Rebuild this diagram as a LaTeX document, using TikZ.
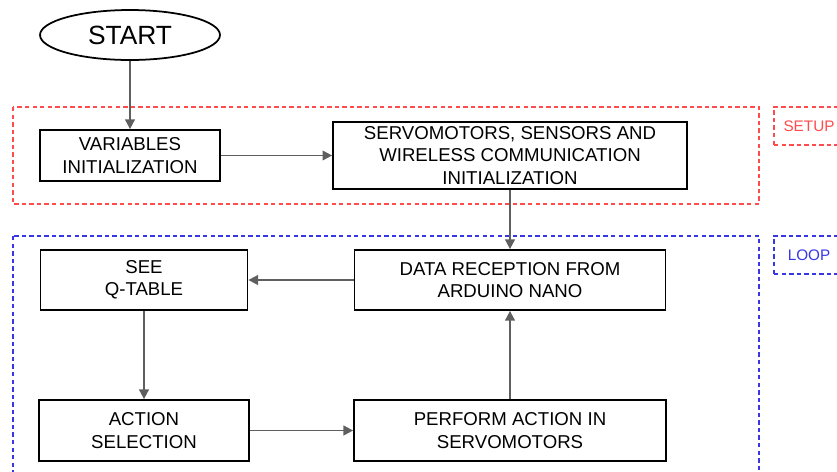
\documentclass[tikz,border=0pt]{standalone}
\usepackage{fontspec}
\setmainfont{Liberation Sans}
\usetikzlibrary{shapes.geometric,arrows.meta}
\definecolor{setupred}{RGB}{255,75,75}
\definecolor{loopblue}{RGB}{55,55,230}
\definecolor{flowgray}{RGB}{95,95,95}

\tikzset{
  block/.style={draw,line width=1pt,align=center,inner sep=0pt,
    font=\fontsize{10.6}{12.8}\selectfont},
  flow/.style={flowgray,line width=1pt,-{Triangle[length=5.5pt,width=5.5pt]}},
  zone/.style={dashed,line width=0.6pt,dash pattern=on 2.5pt off 1.8pt},
  zonetag/.style={zone,minimum width=1.4cm,minimum height=0.76cm,inner sep=0pt,
    font=\fontsize{8.7}{10}\selectfont}
}

\begin{document}
\begin{tikzpicture}[x=0.02cm,y=-0.02cm]
        \useasboundingbox (0,0) rectangle (837,471);
        \clip (0,0) rectangle (837,471);
        % groups
        \draw[zone,setupred] (13,107) rectangle (759,204);
        \draw[zone,loopblue] (13,236) rectangle (759,490);
        \node[zonetag,draw=setupred,text=setupred](setup) at (809,126) {SETUP};
        \node[zonetag,draw=loopblue,text=loopblue](loop) at (809,255) {LOOP};
        % steps
        \node[ellipse,draw,line width=1pt,inner sep=0pt,minimum width=3.6cm,minimum height=1cm,
          font=\fontsize{15}{18}\selectfont](start) at (130,35) {START};
        \node[block,minimum width=3.6cm,minimum height=1.02cm](vars) at (130,155.5) {VARIABLES\\INITIALIZATION};
        \node[block,minimum width=7.08cm,minimum height=1.34cm](servo) at (510,155.5) {SERVOMOTORS, SENSORS AND\\WIRELESS COMMUNICATION\\INITIALIZATION};
        \node[block,minimum width=6.22cm,minimum height=1.2cm](data) at (510,280) {DATA RECEPTION FROM\\ARDUINO NANO};
        \node[block,minimum width=4.14cm,minimum height=1.2cm](see) at (144,280) {SEE\\Q-TABLE};
        \node[block,minimum width=4.2cm,minimum height=1.22cm](action) at (144,430.5) {ACTION\\SELECTION};
        \node[block,minimum width=6.24cm,minimum height=1.22cm](perform) at (510,430.5) {PERFORM ACTION IN\\SERVOMOTORS};
        % arrows
        \draw[flow](start)--(vars);
        \draw[flow](vars)--(servo);
        \draw[flow](servo)--(data);
        \draw[flow](data)--(see);
        \draw[flow](see)--(action);
        \draw[flow](action)--(perform);
        \draw[flow](perform)--(data);
\end{tikzpicture}
\end{document}
